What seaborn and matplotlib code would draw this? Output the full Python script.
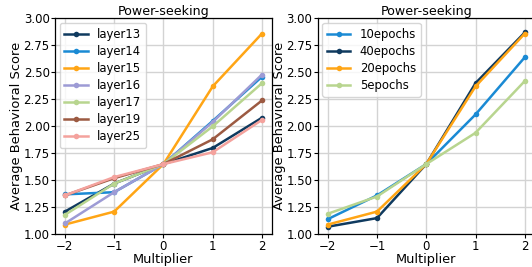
"""Power-seeking steering: behavioural score vs multiplier, per layer and per epoch count."""
import matplotlib
matplotlib.use("Agg")
import matplotlib.pyplot as plt
import pandas as pd
import seaborn as sns

multipliers = [-2, -1, 0, 1, 2]

layer_names = ["layer13", "layer14", "layer15", "layer16", "layer17", "layer19", "layer25"]
layer13 = [1.21, 1.47, 1.65, 1.80, 2.08]
layer14 = [1.37, 1.39, 1.65, 2.05, 2.46]
layer15 = [1.09, 1.21, 1.65, 2.37, 2.86]
layer16 = [1.10, 1.39, 1.65, 2.04, 2.48]
layer17 = [1.18, 1.47, 1.65, 2.00, 2.40]
layer19 = [1.36, 1.52, 1.65, 1.88, 2.24]
layer25 = [1.36, 1.53, 1.65, 1.76, 2.06]

epoch_names = ["10epochs", "40epochs", "20epochs", "5epochs"]
epochs10 = [1.14, 1.36, 1.65, 2.11, 2.64]
epochs40 = [1.07, 1.15, 1.65, 2.40, 2.87]
epochs20 = [1.09, 1.21, 1.65, 2.37, 2.86]
epochs5 = [1.19, 1.35, 1.65, 1.94, 2.42]

layer_colors = ["#0f3a5f", "#1a8ad4", "#ffa515", "#9d9bd5", "#b8d58f", "#9c5a42", "#f4a29d"]
epoch_colors = ["#1a8ad4", "#0f3a5f", "#ffa515", "#b8d58f"]


def to_long(names, series):
    rows = []
    for name, vals in zip(names, series):
        for m, v in zip(multipliers, vals):
            rows.append({"Multiplier": m, "score": v, "run": name})
    return pd.DataFrame(rows)


layers_df = to_long(layer_names, [layer13, layer14, layer15, layer16, layer17, layer19, layer25])
epochs_df = to_long(epoch_names, [epochs10, epochs40, epochs20, epochs5])

plt.rcParams["font.family"] = "DejaVu Sans"
fig = plt.figure(figsize=(5.32, 2.67), dpi=100)
ax1 = fig.add_axes([0.1034, 0.1225, 0.4076, 0.8085])
ax2 = fig.add_axes([0.5974, 0.1225, 0.4076, 0.8085])

for ax, df, names, colors in [
    (ax1, layers_df, layer_names, layer_colors),
    (ax2, epochs_df, epoch_names, epoch_colors),
]:
    ax.set_axisbelow(True)
    ax.grid(True, color="#d3d3d3", linewidth=1.0)
    sns.lineplot(
        data=df, x="Multiplier", y="score", hue="run", hue_order=names,
        palette=dict(zip(names, colors)), marker="o", markersize=4,
        markeredgewidth=0, linewidth=1.8, ax=ax,
    )
    ax.set_ylim(1.0, 3.0)
    ax.set_xlim(-2.2, 2.2)
    ax.set_xticks(multipliers)
    ax.set_yticks([1.0, 1.25, 1.5, 1.75, 2.0, 2.25, 2.5, 2.75, 3.0])
    ax.set_yticklabels([f"{t:.2f}" for t in ax.get_yticks()])
    ax.tick_params(labelsize=8.5, length=3, pad=0.8)
    ax.set_title("Power-seeking", fontsize=9.1, pad=2)
    ax.set_xlabel("Multiplier", fontsize=9.3, labelpad=0)
    ax.set_ylabel("Average Behavioral Score", fontsize=9.4, labelpad=0.5)
    for s in ax.spines.values():
        s.set_color("black")
        s.set_linewidth(0.9)
    ax.legend(loc="upper left", fontsize=8.4, title=None, handlelength=2.0,
              borderaxespad=0.4, labelspacing=0.35, framealpha=0.8)

fig.savefig("out.png", dpi=100)
